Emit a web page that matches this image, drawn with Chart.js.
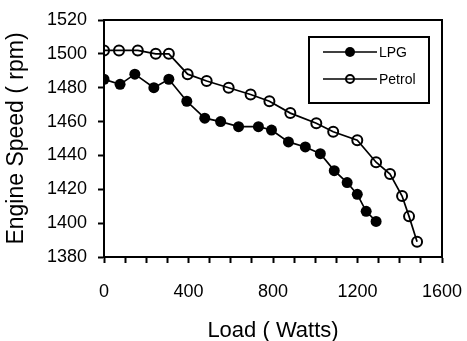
<!DOCTYPE html>
<html>
<head>
<meta charset="utf-8">
<script src="https://cdn.jsdelivr.net/npm/chart.js@4"></script>
<style>
  html, body { margin: 0; padding: 0; background: #fff; }
  #wrap { width: 467px; height: 341px; }
</style>
</head>
<body>
<div id="wrap"><canvas id="grafico"></canvas></div>
<script>
// dados
const lpgLoad = [0, 76, 146, 236, 307, 392, 477, 552, 637, 731, 793, 873, 953, 1024, 1090, 1151, 1199, 1241, 1288]
const lpgSpeed = [1485, 1482, 1488, 1480, 1485, 1472, 1462, 1460, 1457, 1457, 1455, 1448, 1445, 1441, 1431, 1424, 1417, 1407, 1401]

const petrolLoad = [0, 71, 160, 245, 307, 396, 486, 590, 694, 783, 882, 1005, 1085, 1199, 1288, 1354, 1411, 1444, 1482]
const petrolSpeed = [1502, 1502, 1502, 1500, 1500, 1488, 1484, 1480, 1476, 1472, 1465, 1459, 1454, 1449, 1436, 1429, 1416, 1404, 1389]

const xTicks = [0, 400, 800, 1200, 1600]
const yTicks = [1380, 1400, 1420, 1440, 1460, 1480, 1500, 1520]

const seriesNames = ['LPG', 'Petrol']

const FONT = 'Liberation Sans, Arial, sans-serif'

Chart.defaults.font.family = FONT
Chart.defaults.color = '#000'

const pontos = (xs, ys) => xs.map((x, i) => ({ x, y: ys[i] }))

// legenda desenhada à mão (linha + marcador)
const legendaBox = {
  id: 'legendaBox',
  afterDraw(chart) {
    const c = chart.ctx
    c.save()
    c.strokeStyle = '#000'
    c.lineWidth = 2
    c.strokeRect(309, 37, 120, 66)
    const rows = [52, 79]
    chart.data.datasets.forEach((ds, i) => {
      const y = rows[i]
      c.beginPath()
      c.lineWidth = 1.7
      c.moveTo(323, y)
      c.lineTo(377, y)
      c.stroke()
      c.beginPath()
      if (i === 0) {
        c.arc(350, y, 5, 0, Math.PI * 2)
        c.fillStyle = '#000'
        c.fill()
      } else {
        c.lineWidth = 2
        c.arc(350, y, 4, 0, Math.PI * 2)
        c.stroke()
      }
      c.fillStyle = '#000'
      c.font = '14px ' + FONT
      c.textBaseline = 'middle'
      c.textAlign = 'left'
      c.fillText(seriesNames[i], 379, y + 1)
    })
    c.restore()
  }
}

// moldura superior e direita
const moldura = {
  id: 'moldura',
  beforeDatasetsDraw(chart) {
    const a = chart.chartArea
    const c = chart.ctx
    c.save()
    c.strokeStyle = '#000'
    c.lineWidth = 2
    c.beginPath()
    c.moveTo(a.left, a.top)
    c.lineTo(a.right, a.top)
    c.lineTo(a.right, a.bottom)
    c.stroke()
    c.restore()
  }
}

const data = {
  datasets: [{
    label: seriesNames[0],
    data: pontos(lpgLoad, lpgSpeed),
    borderColor: '#000',
    borderWidth: 1.7,
    backgroundColor: '#000',
    pointRadius: 5.5,
    pointBorderWidth: 0,
    pointBackgroundColor: '#000',
    tension: 0
  }, {
    label: seriesNames[1],
    data: pontos(petrolLoad, petrolSpeed),
    borderColor: '#000',
    borderWidth: 1.7,
    pointRadius: 5,
    pointBorderWidth: 2,
    pointBorderColor: '#000',
    pointBackgroundColor: 'rgba(0,0,0,0)',
    tension: 0
  }]
}

const config = {
  type: 'line',
  data,
  options: {
    responsive: true,
    maintainAspectRatio: false,
    animation: false,
    layout: { padding: { left: 0, right: 25, top: 20, bottom: 0 } },
    plugins: {
      legend: { display: false },
      tooltip: { enabled: false }
    },
    scales: {
      x: {
        type: 'linear',
        min: 0,
        max: 1600,
        afterFit: s => {
          s.height = 84
          s.paddingLeft = 0
          s.paddingRight = 0
        },
        afterBuildTicks: s => {
          const t = []
          for (let v = 0; v <= 1600; v += 100) t.push({ value: v })
          s.ticks = t
        },
        ticks: {
          autoSkip: false,
          maxRotation: 0,
          padding: 18,
          font: { size: 18 },
          callback: v => xTicks.includes(v) ? String(v) : ''
        },
        grid: { drawOnChartArea: false, tickLength: 6, tickColor: '#000', tickWidth: 2 },
        border: { color: '#000', width: 2 },
        title: { display: true, text: 'Load ( Watts)', font: { size: 22, lineHeight: 0.95 }, padding: { top: 10, bottom: 0 } }
      },
      y: {
        min: 1380,
        max: 1520,
        afterFit: s => {
          s.width = 104
          s.paddingTop = 0
          s.paddingBottom = 0
        },
        afterBuildTicks: s => { s.ticks = yTicks.map(v => ({ value: v })) },
        ticks: { padding: 11, font: { size: 18 }, callback: v => String(v) },
        grid: { drawOnChartArea: false, tickLength: 6, tickColor: '#000', tickWidth: 2 },
        border: { color: '#000', width: 2 },
        title: { display: true, text: 'Engine Speed ( rpm)', font: { size: 23 }, padding: { top: 3, bottom: 0 } }
      }
    }
  },
  plugins: [moldura, legendaBox]
}

const graph = new Chart(document.getElementById('grafico'), config)
</script>
</body>
</html>
